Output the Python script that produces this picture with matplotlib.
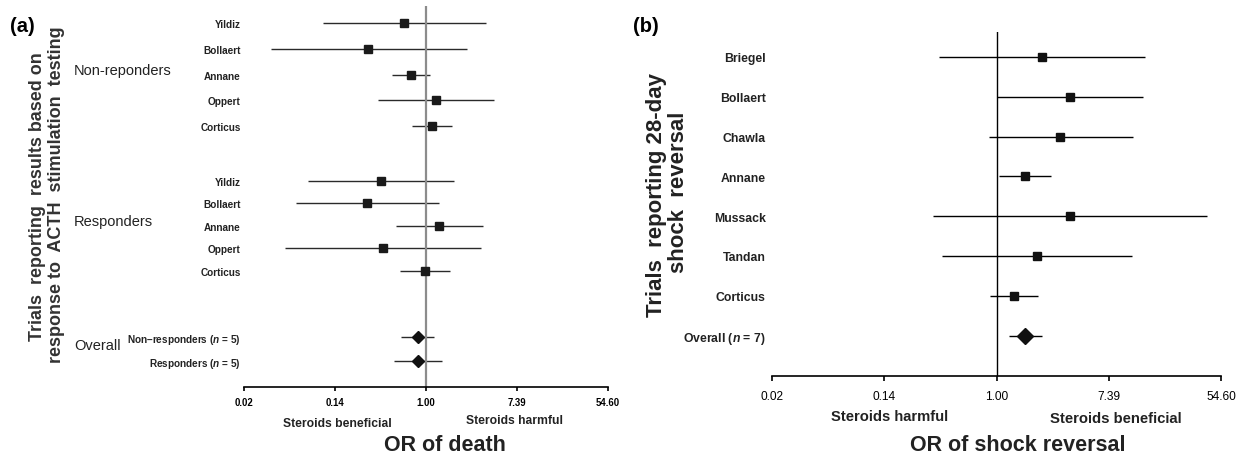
import numpy as np
import matplotlib
matplotlib.use('Agg')
import matplotlib.pyplot as plt
from matplotlib import transforms

plt.rcParams['font.family'] = ['Liberation Sans', 'DejaVu Sans']
plt.rcParams['mathtext.fontset'] = 'custom'
plt.rcParams['mathtext.it'] = 'Liberation Sans:italic:bold'
plt.rcParams['mathtext.rm'] = 'Liberation Sans:bold'

# ---- data ----
# (a) OR of death, trials split by response to ACTH stimulation test
studies_a = ['Yildiz', 'Bollaert', 'Annane', 'Oppert', 'Corticus']
nonresp_or = [0.62, 0.28, 0.72, 1.25, 1.13]
nonresp_lo = [0.104, 0.033, 0.47, 0.35, 0.74]
nonresp_hi = [3.71, 2.44, 1.10, 4.49, 1.76]
resp_or = [0.37, 0.275, 1.34, 0.386, 0.97]
resp_lo = [0.074, 0.057, 0.52, 0.045, 0.56]
resp_hi = [1.84, 1.34, 3.53, 3.35, 1.70]
overall_labels_a = ['Non\u2013responders ($n$ = 5)', 'Responders ($n$ = 5)']
overall_or_a = [0.83, 0.83]
overall_lo_a = [0.58, 0.49]
overall_hi_a = [1.20, 1.41]
groups_a = ['Non-reponders', 'Responders', 'Overall']

# (b) OR of shock reversal
studies_b = ['Briegel', 'Bollaert', 'Chawla', 'Annane', 'Mussack', 'Tandan', 'Corticus']
shock_or = [2.26, 3.68, 3.12, 1.65, 3.68, 2.04, 1.37]
shock_lo = [0.36, 1.00, 0.88, 1.04, 0.32, 0.38, 0.89]
shock_hi = [14.2, 13.7, 11.3, 2.64, 42.5, 11.1, 2.10]
overall_label_b = 'Overall ($n$ = 7)'
overall_or_b = [1.65]
overall_lo_b = [1.25]
overall_hi_b = [2.25]

tick_labels = ['0.02', '0.14', '1.00', '7.39', '54.60']
tick_pos = np.exp(np.arange(-4, 5, 2))

# ---- figure ----
fig = plt.figure(figsize=(12.44, 4.56), dpi=100)
W, H = 1244, 456


def fx(px):
    return px / W


def fy(py):
    return 1 - py / H


def style_axis(ax, lw, ticklen, pad, size, weight):
    ax.set_xscale('log')
    ax.set_xlim(tick_pos[0], tick_pos[-1])
    ax.set_xticks(tick_pos)
    ax.set_xticklabels(tick_labels, fontsize=size, fontweight=weight)
    ax.minorticks_off()
    for s in ['top', 'right', 'left']:
        ax.spines[s].set_visible(False)
    ax.spines['bottom'].set_linewidth(lw)
    ax.tick_params(axis='x', direction='out', length=ticklen, width=lw, pad=pad)
    ax.tick_params(axis='y', length=0)


# ---------- panel (a) ----------
ax1 = fig.add_axes([fx(244), fy(387.7), fx(608 - 244), (387.7 - 7) / H])
rows_nr = np.arange(5) * 1.075
rows_r = 6.57 + np.arange(5) * 0.9375
rows_ov = 13.1 + np.arange(2) * 1.0

col_a = '#2a2a2a'
ax1.axvline(1.0, color='#8c8c8c', lw=1.6, zorder=2)
for rows, o, lo, hi in [(rows_nr, nonresp_or, nonresp_lo, nonresp_hi),
                        (rows_r, resp_or, resp_lo, resp_hi)]:
    ax1.hlines(rows, lo, hi, color=col_a, lw=1.0, zorder=1)
    ax1.plot(o, rows, 's', color='#1a1a1a', ms=5.2, zorder=3)
ax1.hlines(rows_ov, overall_lo_a, overall_hi_a, color=col_a, lw=1.0, zorder=1)
ax1.plot(overall_or_a, rows_ov, 'D', color='#111111', ms=6.4, zorder=3)

ax1.set_ylim(15.15, -0.708)
ax1.set_yticks(np.r_[rows_nr, rows_r, rows_ov])
ax1.set_yticklabels(studies_a + studies_a + overall_labels_a,
                    fontsize=7.2, fontweight='bold', color='#222222')
style_axis(ax1, 1.2, 2.9, 4.2, 6.9, 'bold')
ax1.tick_params(axis='y', pad=2.4)

# group labels on the left
tr = transforms.blended_transform_factory(fig.transFigure, ax1.transData)
for name, rows in zip(groups_a, [rows_nr, rows_r, rows_ov]):
    ax1.text(fx(74), rows.mean() - 0.2, name, transform=tr, fontsize=10.5,
             ha='left', va='center', color='#222222')

# two-line axis title, one text per line
fig.text(fx(37.5), fy(196.5), 'Trials  reporting  results based on',
         rotation=90, ha='center', va='center', fontsize=12.9,
         fontweight='bold', color='#333333')
fig.text(fx(56.7), fy(194.5), 'response to  ACTH  stimulation  testing',
         rotation=90, ha='center', va='center', fontsize=13,
         fontweight='bold', color='#333333')
fig.text(fx(10), fy(32.3), '(a)', fontsize=14.5, fontweight='bold',
         ha='left', va='baseline')
fig.text(fx(337), fy(426.7), 'Steroids beneficial', fontsize=8.7,
         fontweight='bold', ha='center', va='baseline', color='#222222')
fig.text(fx(514.5), fy(424.3), 'Steroids harmful', fontsize=8.7,
         fontweight='bold', ha='center', va='baseline', color='#222222')
fig.text(fx(445), fy(450.7), 'OR of death', fontsize=15.5,
         fontweight='bold', ha='center', va='baseline', color='#222222')

# ---------- panel (b) ----------
ax2 = fig.add_axes([fx(772.3), fy(376.7), fx(1221 - 772.3), (376.7 - 33) / H])
rows_b = np.arange(len(studies_b), dtype=float)
rows_bo = np.array([len(studies_b)], dtype=float)

ax2.axvline(1.0, color='black', lw=1.0, zorder=2)
ax2.hlines(rows_b, shock_lo, shock_hi, color='black', lw=1.0, zorder=1)
ax2.plot(shock_or, rows_b, 's', color='#111111', ms=5.6, zorder=3)
ax2.hlines(rows_bo, overall_lo_b, overall_hi_b, color='black', lw=1.0, zorder=1)
ax2.plot(overall_or_b, rows_bo, 'D', color='#111111', ms=8, zorder=3)

ax2.set_ylim(8.008, -0.628)
ax2.set_yticks(np.r_[rows_b, rows_bo])
ax2.set_yticklabels(studies_b + [overall_label_b], fontsize=8.8,
                    fontweight='bold', color='#222222')
style_axis(ax2, 1.2, 3.6, 6.7, 8.6, 'normal')
ax2.tick_params(axis='y', pad=4.7)

fig.text(fx(656.7), fy(195), 'Trials  reporting 28-day', rotation=90,
         ha='center', va='center', fontsize=16, fontweight='bold',
         color='#222222')
fig.text(fx(678), fy(192.5), 'shock  reversal', rotation=90,
         ha='center', va='center', fontsize=16, fontweight='bold',
         color='#222222')
fig.text(fx(633), fy(32.3), '(b)', fontsize=14.5, fontweight='bold',
         ha='left', va='baseline')
fig.text(fx(890), fy(420.7), 'Steroids harmful', fontsize=10.6,
         fontweight='bold', ha='center', va='baseline', color='#222222')
fig.text(fx(1116), fy(422.7), 'Steroids beneficial', fontsize=10.7,
         fontweight='bold', ha='center', va='baseline', color='#222222')
fig.text(fx(1018), fy(450.7), 'OR of shock reversal', fontsize=15.5,
         fontweight='bold', ha='center', va='baseline', color='#222222')

fig.savefig('out.png', dpi=100)
